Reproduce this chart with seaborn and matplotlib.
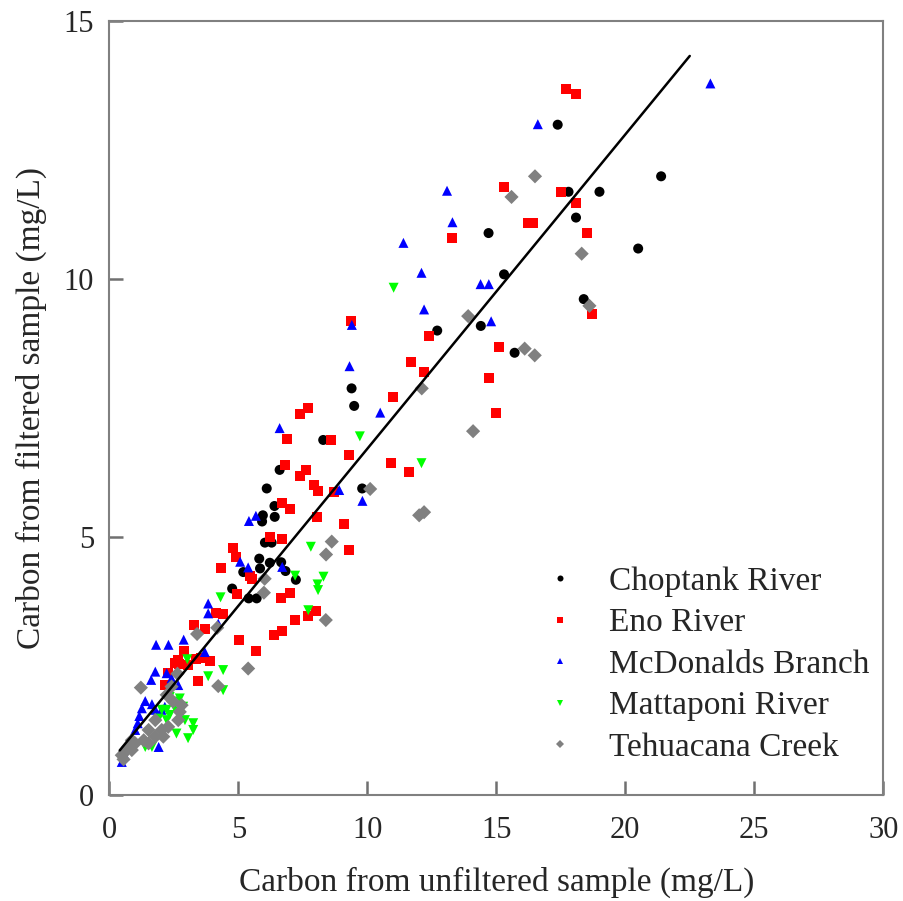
import matplotlib
matplotlib.use('Agg')
import matplotlib.pyplot as plt
import numpy as np
import pandas as pd
import seaborn as sns

# values (mg/L)
choptank_x = [17.38, 21.39, 17.80, 19.00, 18.09, 14.70, 20.50, 15.30, 18.39, 14.40,
              15.71, 12.71, 9.39, 9.49, 8.29, 6.60, 9.80, 6.10, 6.40, 5.95,
              5.92, 6.41, 6.03, 6.29, 5.81, 6.22, 6.66, 5.19, 5.84, 6.83,
              7.23, 4.76, 5.40, 5.71]
choptank_y = [12.99, 11.99, 11.69, 11.69, 11.19, 10.89, 10.59, 10.09, 9.61, 9.09,
              8.57, 9.00, 7.88, 7.54, 6.88, 6.30, 5.94, 5.94, 5.60, 5.42,
              5.30, 5.39, 4.89, 4.89, 4.58, 4.50, 4.51, 4.32, 4.39, 4.34,
              4.17, 4.00, 3.81, 3.81]

eno_x = [17.69, 18.09, 15.30, 17.50, 18.08, 18.50, 16.23, 16.43, 18.70, 15.10,
         13.29, 9.37, 12.41, 11.70, 12.20, 14.70, 11.00, 7.38, 7.71, 6.89,
         8.60, 9.29, 10.90, 6.79, 7.38, 7.64, 7.94, 8.07, 8.70, 6.70,
         7.00, 8.04, 9.10, 6.21, 6.71, 9.29, 4.80, 4.90, 4.31, 5.45,
         5.51, 4.95, 6.66, 7.02, 7.19, 6.71, 6.40, 5.03, 5.69, 4.13,
         4.39, 3.29, 3.70, 2.90, 2.68, 3.34, 3.57, 3.90, 3.42, 2.29,
         2.67, 2.54, 3.05, 2.15, 14.99, 11.61, 8.00, 7.71]
eno_y = [13.69, 13.59, 11.79, 11.69, 11.48, 10.89, 11.09, 11.09, 9.32, 8.68,
         10.79, 9.19, 8.89, 8.39, 8.19, 8.09, 7.71, 7.39, 7.49, 6.89,
         6.88, 6.59, 6.43, 6.40, 6.19, 6.29, 6.01, 5.89, 5.88, 5.65,
         5.55, 5.39, 5.26, 5.00, 4.97, 4.75, 4.79, 4.61, 4.40, 4.24,
         4.18, 3.90, 3.81, 3.91, 3.39, 3.17, 3.10, 3.00, 2.79, 3.53,
         3.50, 3.29, 3.21, 2.79, 2.54, 2.63, 2.65, 2.59, 2.20, 2.37,
         2.61, 2.55, 2.52, 2.13, 7.40, 6.25, 3.57, 3.46]

mcdonalds_x = [23.30, 16.61, 13.09, 13.30, 11.40, 12.10, 14.39, 14.71, 12.20, 14.80,
               9.40, 9.31, 10.50, 6.60, 8.91, 9.81, 5.41, 5.68, 5.07, 5.38,
               6.70, 3.83, 3.83, 4.22, 2.88, 1.81, 2.29, 3.70, 1.78, 1.62,
               2.22, 2.41, 2.67, 1.39, 1.26, 1.16, 1.10, 1.00, 0.84, 0.72,
               0.59, 1.91, 1.65, 1.78, 2.02, 2.15, 0.48]
mcdonalds_y = [13.79, 13.00, 11.71, 11.10, 10.70, 10.12, 9.90, 9.90, 9.41, 9.18,
               9.11, 8.31, 7.41, 7.11, 5.91, 5.70, 5.31, 5.41, 4.52, 4.41,
               4.42, 3.71, 3.52, 3.32, 3.01, 2.91, 2.91, 2.77, 2.39, 2.23,
               2.36, 2.26, 2.13, 1.82, 1.68, 1.53, 1.39, 1.26, 1.06, 0.92,
               0.77, 0.93, 1.76, 1.65, 1.65, 1.71, 0.64]

mattaponi_x = [11.02, 9.71, 7.81, 7.20, 8.30, 8.07, 8.09, 4.31, 4.41, 3.83,
               4.41, 3.02, 2.34, 2.54, 2.73, 2.86, 2.54, 2.34, 2.93, 3.25,
               3.25, 3.05, 2.60, 2.22, 2.22, 2.03, 1.91, 1.39, 1.65, 12.10,
               7.71]
mattaponi_y = [9.83, 6.95, 4.81, 4.25, 4.23, 4.08, 3.97, 3.83, 2.42, 2.30,
               2.03, 2.63, 1.90, 1.81, 1.87, 1.71, 1.68, 1.55, 1.45, 1.39,
               1.26, 1.10, 1.19, 1.45, 1.65, 1.65, 1.48, 0.93, 0.93, 6.43,
               3.58]

tehuacana_x = [16.50, 15.59, 18.31, 18.61, 13.91, 16.10, 16.49, 12.11, 10.11, 8.62,
               8.40, 6.02, 5.99, 4.18, 3.40, 4.22, 5.38, 1.22, 2.64, 2.41,
               2.22, 2.47, 2.80, 2.67, 2.28, 2.73, 2.09, 1.78, 2.03, 1.52,
               1.33, 1.52, 1.78, 0.87, 0.74, 1.00, 0.61, 0.48, 0.87, 0.55,
               14.10, 12.01, 12.20, 8.39]
tehuacana_y = [11.99, 11.59, 10.49, 9.48, 9.28, 8.65, 8.52, 7.88, 5.93, 4.91,
               4.66, 4.19, 3.92, 3.24, 3.12, 2.11, 2.45, 2.08, 2.35, 2.10,
               1.94, 1.81, 1.74, 1.45, 1.32, 1.61, 1.13, 1.45, 1.26, 1.26,
               1.06, 1.00, 1.13, 1.06, 0.93, 1.00, 0.84, 0.77, 0.87, 0.69,
               7.05, 5.42, 5.48, 3.39]

sites = ['Choptank River', 'Eno River', 'McDonalds Branch', 'Mattaponi River', 'Tehuacana Creek']
site_x = [choptank_x, eno_x, mcdonalds_x, mattaponi_x, tehuacana_x]
site_y = [choptank_y, eno_y, mcdonalds_y, mattaponi_y, tehuacana_y]
colors = ['#000000', '#ff0000', '#0000ff', '#00ff00', '#808080']
markers = ['o', 's', '^', 'v', 'D']

# fitted line shown in the figure
fit_slope = 0.609
fit_intercept = 0.62
fit_range = [0.4, 22.5]

frames = []
for name, xs, ys in zip(sites, site_x, site_y):
    frames.append(pd.DataFrame({'unfiltered': xs, 'filtered': ys, 'site': name}))
df = pd.concat(frames, ignore_index=True)

sns.set_style('white')
plt.rcParams['font.family'] = ['Liberation Serif', 'DejaVu Serif']
plt.rcParams['xtick.labelsize'] = 22
plt.rcParams['ytick.labelsize'] = 22
plt.rcParams['xtick.major.pad'] = 15
plt.rcParams['ytick.major.pad'] = 11

fig = plt.figure(figsize=(9.04, 9.01), dpi=100)
ax = fig.add_axes([0.121, 0.1177, 0.856, 0.859])

sns.scatterplot(data=df, x='unfiltered', y='filtered', hue='site', style='site',
                palette=dict(zip(sites, colors)), markers=dict(zip(sites, markers)),
                hue_order=sites, style_order=sites, s=52, linewidth=0, ax=ax)

fx = np.array(fit_range)
ax.plot(fx, fit_slope * fx + fit_intercept, color='black', lw=1.8)

ax.set_xlim(0, 30)
ax.set_ylim(0, 15)
ax.set_xticks([0, 5, 10, 15, 20, 25, 30])
ax.set_yticks([0, 5, 10, 15])
ax.set_xlabel('Carbon from unfiltered sample (mg/L)', fontsize=24, labelpad=16)
ax.set_ylabel('Carbon from filtered sample (mg/L)', fontsize=24, labelpad=12)
for sp in ax.spines.values():
    sp.set_color('#808080')
    sp.set_linewidth(1.5)
ax.tick_params(bottom=True, left=True, direction='in', length=10, width=1.8, color='#707070')

ax.legend(loc='upper left', bbox_to_anchor=(0.518, 0.317), frameon=False, fontsize=24,
          markerscale=0.6, handletextpad=0.45, labelspacing=0.33, borderpad=0)

fig.savefig('out.png', dpi=100)
